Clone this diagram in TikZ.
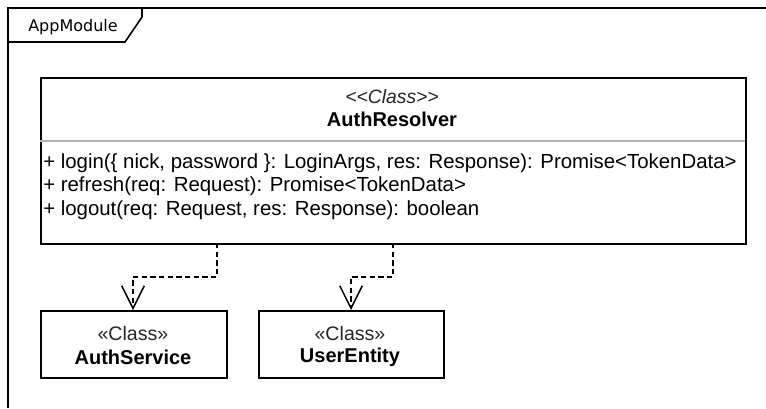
\documentclass[tikz,border=0pt]{standalone}
\usepackage{fontspec}
\setmainfont{Liberation Sans}
\newfontfamily\framefont{DejaVu Sans}
\usetikzlibrary{arrows.meta}
\begin{document}
\begin{tikzpicture}[x=0.75pt,y=-0.75pt,
  classbox/.style={draw,line width=1.2pt,fill=white},
  dep/.style={dashed,dash pattern=on 4pt off 2.5pt,line width=1.1pt,-{Straight Barb[length=17pt,width=17pt,line width=1.1pt]}},
  txt/.style={inner sep=0pt,font=\fontsize{15.3}{18}\selectfont},
  stereo/.style={inner sep=0pt,text=black!85,font=\fontsize{14.7}{17}\selectfont},
  cname/.style={inner sep=0pt,font=\bfseries\fontsize{15}{18}\selectfont}
]
\useasboundingbox (0,0) rectangle (766,408);
% frame
\draw[line width=1.2pt] (766,8) -- (8,8) -- (8,408);
\draw[line width=1.2pt] (8,42) -- (125,42) -- (142,17) -- (142,8);
\node[inner sep=0pt,font=\framefont\fontsize{12}{14}\selectfont] (frlabel) at (73,27) {AppModule};
% main class
\node[classbox,minimum width=705*0.75pt,minimum height=166*0.75pt,anchor=north west,inner sep=0pt] (ar) at (40,77) {};
\draw[gray!60,line width=1.1pt] (40,141) coordinate (s1) -- (745,141) coordinate (s2);
\node[inner sep=0pt,text=black!85,font=\itshape\fontsize{14.5}{16}\selectfont] (st) at (392,97) {<{}<Class>{}>};
\node[cname] (nm) at (392,119) {AuthResolver};
\node[txt,anchor=west] (m1) at (43,163) {+ login(\{ nick, password \}: LoginArgs, res: Response): Promise<TokenData>};
\node[txt,anchor=west] (m2) at (43,186) {+ refresh(req: Request): Promise<TokenData>};
\node[txt,anchor=west] (m3) at (43,210) {+ logout(req: Request, res: Response): boolean};
% small classes
\node[classbox,minimum width=186*0.75pt,minimum height=67*0.75pt,anchor=north west,inner sep=0pt] (as) at (40,310) {};
\node[stereo] (ast) at (133,333) {«Class»};
\node[cname] (asn) at (133,357) {AuthService};
\node[classbox,minimum width=185*0.75pt,minimum height=67*0.75pt,anchor=north west,inner sep=0pt] (ue) at (258,310) {};
\node[stereo] (uet) at (350,333) {«Class»};
\node[cname] (uen) at (350,357) {UserEntity};
% dependencies
\coordinate (a1) at (217,243);
\coordinate (b1) at (393,243);
\draw[dep] (a1) -- (217,277) -| (as.north -| 133,0);
\draw[dep] (b1) -- (393,277) -| (ue.north -| 351,0);
\end{tikzpicture}
\end{document}
